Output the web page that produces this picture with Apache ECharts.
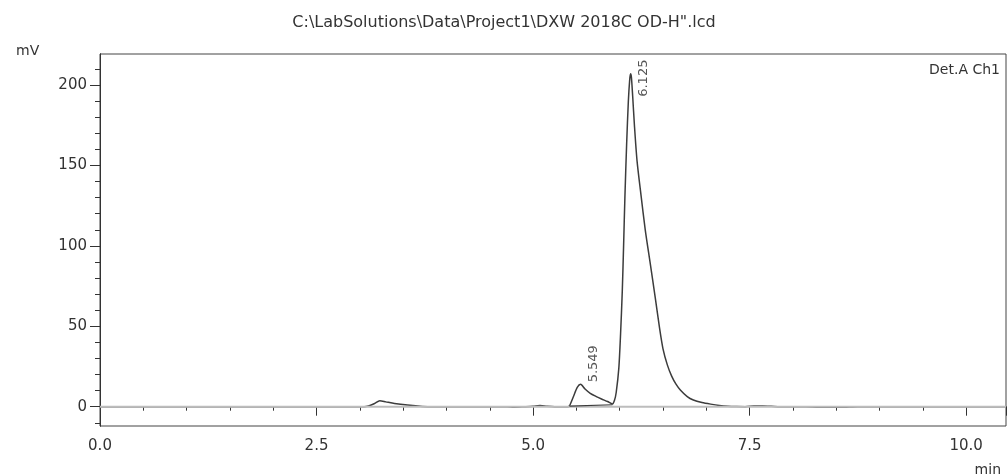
<!DOCTYPE html>
<html>
<head>
<meta charset="utf-8">
<script src="https://cdn.jsdelivr.net/npm/echarts@6/dist/echarts.min.js"></script>
<style>html,body{margin:0;padding:0;background:#fff}#c{width:1008px;height:475px}</style>
</head>
<body>
<div id="c"></div>
<script>
// ---- data ----
const times = [0.00, 3.05, 3.10, 3.17, 3.23, 3.30, 3.40, 3.55, 3.72, 3.85,
  4.70, 4.78, 4.90, 5.00, 5.08, 5.16, 5.25, 5.40, 5.42, 5.465, 5.51, 5.549,
  5.60, 5.66, 5.73, 5.79, 5.86, 5.916, 5.94, 5.96, 5.99, 6.01, 6.03, 6.045,
  6.06, 6.08, 6.10, 6.115, 6.125, 6.135, 6.15, 6.17, 6.20, 6.245, 6.295,
  6.35, 6.41, 6.46, 6.50, 6.55, 6.60, 6.65, 6.70, 6.78, 6.85, 6.95, 7.05,
  7.15, 7.25, 7.35, 7.45, 7.55, 7.65, 7.75, 7.85, 8.15, 8.30, 8.55, 8.75, 10.46];
const signal = [0, 0, 0.5, 2.0, 3.7, 3.0, 2.0, 1.0, 0.2, 0,
  0, -0.3, 0, 0.3, 0.8, 0.3, 0, 0, 0.5, 6.2, 12.0, 13.9,
  11.0, 8.3, 6.3, 4.8, 3.2, 1.7, 4.0, 9.0, 24, 45, 72, 100,
  130, 163, 190, 203, 207, 205, 193, 175, 153, 132, 110,
  90, 68, 49, 36, 26, 19, 14, 10.4, 6.3, 4.2, 2.6, 1.6,
  0.8, 0.3, 0.1, 0, 0.4, 0.5, 0.3, 0, 0, -0.4, -0.4, 0, 0];
const peakTimes = [5.549, 6.125];
const peakHeights = [13.9, 207];
const peakLabels = ['5.549', '6.125'];
const xTicks = [0, 2.5, 5, 7.5, 10];
const yMajor = [0, 50, 100, 150, 200];
const yMinor = [-10, 0, 10, 20, 30, 40, 50, 60, 70, 80, 90, 100, 110, 120, 130, 140, 150, 160, 170, 180, 190, 200, 210];
const titleText = 'C:\\LabSolutions\\Data\\Project1\\DXW 2018C OD-H".lcd';
const xRange = [0, 10.46];
const yRange = [-12, 219.3];

const FONT = 'DejaVu Sans';
const TXT = '#333';
const AX = '#333';
const labelOffsets = [[2, 13], [-23, 13]];

const chart = echarts.init(document.getElementById('c'), null, {renderer: 'canvas'});
const option = {
  animation: false,
  backgroundColor: '#fff',
  title: [
    {text: titleText, left: 'center', top: 10, textStyle: {fontFamily: FONT, fontSize: 16, fontWeight: 'normal', color: TXT}},
    {text: 'mV', left: 11, top: 39, textStyle: {fontFamily: FONT, fontSize: 14, fontWeight: 'normal', color: TXT}},
    {text: 'min', right: 2, top: 458, textStyle: {fontFamily: FONT, fontSize: 14, fontWeight: 'normal', color: TXT}},
    {text: 'Det.A Ch1', right: 3, top: 58, textStyle: {fontFamily: FONT, fontSize: 14, fontWeight: 'normal', color: TXT}}
  ],
  grid: {left: 100, right: 2, top: 54, bottom: 49, show: true, borderColor: '#444', borderWidth: 1, backgroundColor: 'transparent'},
  xAxis: {
    type: 'value', min: xRange[0], max: xRange[1], interval: 2.5,
    axisLine: {show: true, lineStyle: {color: AX, width: 1}},
    axisTick: {show: true, inside: false, length: 9, lineStyle: {color: AX}},
    minorTick: {show: true, splitNumber: 5, length: 4, lineStyle: {color: AX}},
    axisLabel: {show: true, margin: 13, fontFamily: FONT, fontSize: 15, color: TXT, showMaxLabel: false,
      formatter: v => xTicks.indexOf(v) >= 0 ? v.toFixed(1) : ''},
    splitLine: {show: false}
  },
  yAxis: [
    {
      type: 'value', min: yRange[0], max: yRange[1], position: 'left',
      axisLine: {show: true, lineStyle: {color: AX, width: 1}},
      axisTick: {show: true, length: 5, customValues: yMinor, lineStyle: {color: AX}},
      axisLabel: {show: false},
      splitLine: {show: false}
    },
    {
      type: 'value', min: yRange[0], max: yRange[1], position: 'left',
      axisLine: {show: true, lineStyle: {color: AX, width: 1}},
      axisTick: {show: true, length: 10, customValues: yMajor, lineStyle: {color: AX}},
      axisLabel: {show: true, customValues: yMajor, margin: 13, fontFamily: FONT, fontSize: 15, color: TXT},
      splitLine: {show: false}
    }
  ],
  series: [
    {
      type: 'line', name: 'Det.A Ch1', yAxisIndex: 0, z: 2,
      data: times.map((t, i) => [t, signal[i]]),
      showSymbol: false, smooth: 0.25,
      lineStyle: {color: '#3c3c3c', width: 1.5},
      silent: true
    },
    {
      type: 'line', name: 'zero', yAxisIndex: 1, z: 3,
      data: [[xRange[0], 0], [xRange[1], 0]],
      showSymbol: false,
      lineStyle: {color: '#bdbdbd', width: 2},
      silent: true
    },
    {
      type: 'line', name: 'integration', yAxisIndex: 0, z: 4,
      data: [[times[18], 0.3], [times[27], 1.2]],
      showSymbol: false,
      lineStyle: {color: '#3c3c3c', width: 1.2},
      silent: true
    },
    {
      type: 'scatter', yAxisIndex: 0, z: 5, symbolSize: 0,
      data: peakTimes.map((t, i) => ({
        value: [t, peakHeights[i]],
        label: {show: true, formatter: peakLabels[i], position: 'inside', rotate: 90,
          align: 'left', verticalAlign: 'middle', offset: labelOffsets[i],
          fontFamily: FONT, fontSize: 13, color: '#2a2a2a'}
      })),
      silent: true
    }
  ]
};
chart.setOption(option);
</script>
</body>
</html>
